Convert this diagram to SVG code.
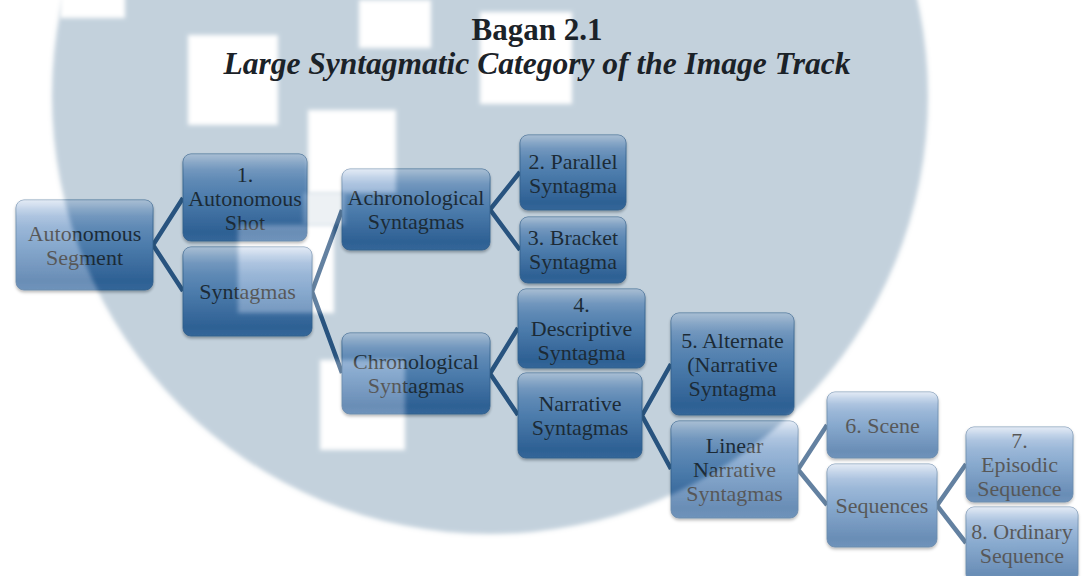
<svg xmlns="http://www.w3.org/2000/svg" width="1083" height="576" viewBox="0 0 1083 576">
<defs>
<style>
.box{fill:url(#boxGrad);stroke:#1f4f82;stroke-width:0.8;filter:url(#shadow)}
.gl{fill:url(#gloss)}
.lbl{font-size:22px;fill:#000;text-anchor:middle}
.ttl{font-weight:bold;fill:#1b2228;text-anchor:middle}
.wb{fill:#fff;filter:url(#soft)}
</style>
<linearGradient id="boxGrad" x1="0" y1="0" x2="0" y2="1">
<stop offset="0" stop-color="#a9c1e2"/>
<stop offset="0.1" stop-color="#84a7d2"/>
<stop offset="0.5" stop-color="#4a7db5"/>
<stop offset="0.9" stop-color="#1c5290"/>
<stop offset="1" stop-color="#265c98"/>
</linearGradient>
<linearGradient id="gloss" x1="0" y1="0" x2="0" y2="1">
<stop offset="0" stop-color="#fff" stop-opacity="0.5"/>
<stop offset="0.18" stop-color="#fff" stop-opacity="0.08"/>
<stop offset="0.3" stop-color="#fff" stop-opacity="0"/>
</linearGradient>
<filter id="shadow" x="-10%" y="-10%" width="120%" height="130%">
<feDropShadow dx="0" dy="2" stdDeviation="1.5" flood-color="#000" flood-opacity="0.4"/>
</filter>
<filter id="soft" x="-20%" y="-20%" width="140%" height="140%"><feGaussianBlur stdDeviation="2"/></filter>
</defs>
<rect width="1083" height="576" fill="#fff"/>
<g id="connectors" stroke="#123f70" stroke-width="4.5" fill="none">
<polyline points="183,198 153,245 183,291"/>
<polyline points="342,210 312,291.5 342,373"/>
<polyline points="520,172 490,209.5 520,250"/>
<polyline points="518,328 490,373.5 518,415"/>
<polyline points="671,364 642,415.5 671,469"/>
<polyline points="827,425 798,469.5 827,505"/>
<polyline points="966,464 937,505.5 966,543"/>
</g>
<g id="nodes" font-family="Liberation Serif, Tinos, Times New Roman, serif">
<g id="n-segment"><rect class="box" x="16" y="200" width="137" height="90" rx="8"/><rect class="gl" x="16" y="200" width="137" height="90" rx="8"/>
<text class="lbl" x="84.5" y="240.5">Autonomous<tspan x="84.5" dy="24">Segment</tspan></text></g>
<g id="n-shot"><rect class="box" x="183" y="154" width="124" height="87" rx="8"/><rect class="gl" x="183" y="154" width="124" height="87" rx="8"/>
<text class="lbl" x="245" y="181.5">1.<tspan x="245" dy="24">Autonomous</tspan><tspan x="245" dy="24">Shot</tspan></text></g>
<g id="n-syntagmas"><rect class="box" x="183" y="247" width="129" height="89" rx="8"/><rect class="gl" x="183" y="247" width="129" height="89" rx="8"/>
<text class="lbl" x="247.5" y="299">Syntagmas</text></g>
<g id="n-achrono"><rect class="box" x="342" y="169" width="148" height="81" rx="8"/><rect class="gl" x="342" y="169" width="148" height="81" rx="8"/>
<text class="lbl" x="416" y="205">Achronological<tspan x="416" dy="24">Syntagmas</tspan></text></g>
<g id="n-chrono"><rect class="box" x="342" y="333" width="148" height="81" rx="8"/><rect class="gl" x="342" y="333" width="148" height="81" rx="8"/>
<text class="lbl" x="416" y="369">Chronological<tspan x="416" dy="24">Syntagmas</tspan></text></g>
<g id="n-parallel"><rect class="box" x="520" y="135" width="106" height="75" rx="8"/><rect class="gl" x="520" y="135" width="106" height="75" rx="8"/>
<text class="lbl" x="573" y="168.5">2. Parallel<tspan x="573" dy="24">Syntagma</tspan></text></g>
<g id="n-bracket"><rect class="box" x="520" y="217" width="106" height="66" rx="8"/><rect class="gl" x="520" y="217" width="106" height="66" rx="8"/>
<text class="lbl" x="573" y="245">3. Bracket<tspan x="573" dy="24">Syntagma</tspan></text></g>
<g id="n-descriptive"><rect class="box" x="518" y="289" width="127" height="79" rx="8"/><rect class="gl" x="518" y="289" width="127" height="79" rx="8"/>
<text class="lbl" x="581.5" y="312">4.<tspan x="581.5" dy="24">Descriptive</tspan><tspan x="581.5" dy="24">Syntagma</tspan></text></g>
<g id="n-narrative"><rect class="box" x="518" y="373" width="124" height="85" rx="8"/><rect class="gl" x="518" y="373" width="124" height="85" rx="8"/>
<text class="lbl" x="580" y="411">Narrative<tspan x="580" dy="24">Syntagmas</tspan></text></g>
<g id="n-alternate"><rect class="box" x="671" y="313" width="123" height="102" rx="8"/><rect class="gl" x="671" y="313" width="123" height="102" rx="8"/>
<text class="lbl" x="732.5" y="347.5">5. Alternate<tspan x="732.5" dy="24">(Narrative</tspan><tspan x="732.5" dy="24">Syntagma</tspan></text></g>
<g id="n-linear"><rect class="box" x="671" y="421" width="127" height="97" rx="8"/><rect class="gl" x="671" y="421" width="127" height="97" rx="8"/>
<text class="lbl" x="734.5" y="453">Linear<tspan x="734.5" dy="24">Narrative</tspan><tspan x="734.5" dy="24">Syntagmas</tspan></text></g>
<g id="n-scene"><rect class="box" x="827" y="392" width="111" height="66" rx="8"/><rect class="gl" x="827" y="392" width="111" height="66" rx="8"/>
<text class="lbl" x="882.5" y="432.5">6. Scene</text></g>
<g id="n-sequences"><rect class="box" x="827" y="464" width="110" height="83" rx="8"/><rect class="gl" x="827" y="464" width="110" height="83" rx="8"/>
<text class="lbl" x="882" y="513">Sequences</text></g>
<g id="n-episodic"><rect class="box" x="966" y="427" width="107" height="75" rx="8"/><rect class="gl" x="966" y="427" width="107" height="75" rx="8"/>
<text class="lbl" x="1019.5" y="448">7.<tspan x="1019.5" dy="24">Episodic</tspan><tspan x="1019.5" dy="24">Sequence</tspan></text></g>
<g id="n-ordinary"><rect class="box" x="966" y="507" width="112" height="75" rx="8"/><rect class="gl" x="966" y="507" width="112" height="75" rx="8"/>
<text class="lbl" x="1022" y="539">8. Ordinary<tspan x="1022" dy="24">Sequence</tspan></text></g>
</g>
<g id="watermark" opacity="0.34">
<rect width="1083" height="576" fill="#fff"/>
<circle cx="490" cy="96" r="438" fill="#527c9c" filter="url(#soft)"/>
<rect class="wb" x="188" y="35" width="90" height="90"/>
<rect class="wb" x="308" y="110" width="88" height="83"/>
<rect class="wb" x="303" y="193" width="42" height="32" opacity="0.7"/>
<rect class="wb" x="238" y="225" width="96" height="88"/>
<rect class="wb" x="359" y="0" width="72" height="48"/>
<rect class="wb" x="480" y="12" width="92" height="92"/>
<rect class="wb" x="320" y="360" width="85" height="90"/>
<rect class="wb" x="60" y="-5" width="65" height="23"/>
</g>
<g id="title" font-family="Liberation Serif, Tinos, Times New Roman, serif">
<text class="ttl" x="537" y="40" font-size="31">Bagan 2.1</text>
<text class="ttl" x="537" y="74" font-size="31.5" font-style="italic">Large Syntagmatic Category of the Image Track</text>
</g>
</svg>
